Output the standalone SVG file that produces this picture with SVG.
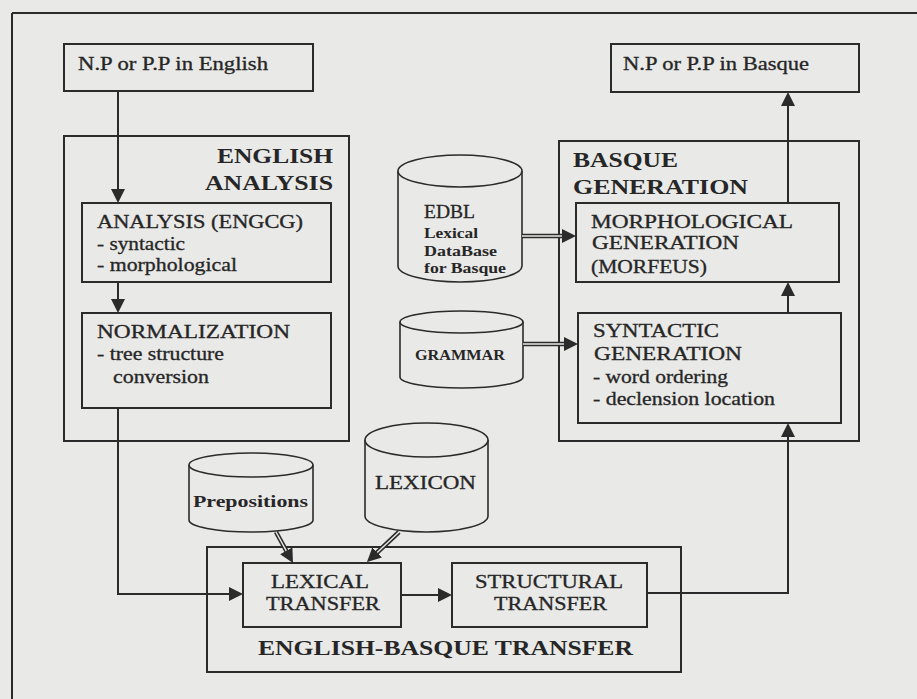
<svg xmlns="http://www.w3.org/2000/svg" width="917" height="699" viewBox="0 0 917 699">
<style>
.bg{fill:#e9e9e7}
.box{fill:none;stroke:#2b2b2b;stroke-width:2}
.cyl{fill:#e9e9e7;stroke:#2b2b2b;stroke-width:1.6}
.t{font-family:"Liberation Serif","Times New Roman",serif;fill:#262626}
.r{font-size:18px;stroke:#262626;stroke-width:0.3}
.b{font-size:20px;font-weight:bold}
.sb{font-size:14px;font-weight:bold}
.c{fill:none;stroke:#2b2b2b;stroke-width:2}
.d{fill:none;stroke:#2b2b2b;stroke-width:4.5}
.di{fill:none;stroke:#e9e9e7;stroke-width:1.4}
</style>
<defs>
<marker id="ah" viewBox="0 0 14 14" markerWidth="14" markerHeight="14" markerUnits="userSpaceOnUse" refX="3" refY="7" orient="auto">
<path d="M0,0 L14,7 L0,14 z" fill="#2b2b2b"/>
</marker>
</defs>
<rect class="bg" x="0" y="0" width="917" height="699"/>
<g id="frame">
<path d="M12,13 H917 M12,13 V699" class="c"/>
</g>
<g id="np-english">
<rect class="box" x="64" y="44" width="249" height="47"/>
<text class="t r" x="78" y="70" textLength="190" lengthAdjust="spacingAndGlyphs">N.P or P.P in English</text>
</g>
<g id="english-analysis">
<rect class="box" x="64" y="136" width="285" height="305"/>
<text class="t b" x="217" y="163" textLength="116" lengthAdjust="spacingAndGlyphs">ENGLISH</text>
<text class="t b" x="205" y="190" textLength="128" lengthAdjust="spacingAndGlyphs">ANALYSIS</text>
</g>
<g id="analysis-engcg">
<rect class="box" x="82" y="203" width="249" height="79"/>
<text class="t r" x="97" y="228" textLength="206" lengthAdjust="spacingAndGlyphs">ANALYSIS (ENGCG)</text>
<text class="t r" x="97" y="250" textLength="88" lengthAdjust="spacingAndGlyphs">- syntactic</text>
<text class="t r" x="97" y="271" textLength="140" lengthAdjust="spacingAndGlyphs">- morphological</text>
</g>
<g id="normalization">
<rect class="box" x="82" y="313" width="249" height="95"/>
<text class="t r" x="97" y="338" textLength="193" lengthAdjust="spacingAndGlyphs">NORMALIZATION</text>
<text class="t r" x="97" y="360" textLength="127" lengthAdjust="spacingAndGlyphs">- tree structure</text>
<text class="t r" x="113" y="383" textLength="96" lengthAdjust="spacingAndGlyphs">conversion</text>
</g>
<g id="np-basque">
<rect class="box" x="611" y="44" width="248" height="48"/>
<text class="t r" x="623" y="70" textLength="186" lengthAdjust="spacingAndGlyphs">N.P or P.P in Basque</text>
</g>
<g id="basque-generation">
<rect class="box" x="559" y="141" width="300" height="300"/>
<text class="t b" x="573" y="167" textLength="105" lengthAdjust="spacingAndGlyphs">BASQUE</text>
<text class="t b" x="573" y="194" textLength="175" lengthAdjust="spacingAndGlyphs">GENERATION</text>
</g>
<g id="morphological-generation">
<rect class="box" x="576" y="203" width="263" height="79"/>
<text class="t r" x="591" y="228" textLength="202" lengthAdjust="spacingAndGlyphs">MORPHOLOGICAL</text>
<text class="t r" x="592" y="249" textLength="147" lengthAdjust="spacingAndGlyphs">GENERATION</text>
<text class="t r" x="591" y="273" textLength="116" lengthAdjust="spacingAndGlyphs">(MORFEUS)</text>
</g>
<g id="syntactic-generation">
<rect class="box" x="578" y="313" width="263" height="110"/>
<text class="t r" x="593" y="337" textLength="126" lengthAdjust="spacingAndGlyphs">SYNTACTIC</text>
<text class="t r" x="594" y="360" textLength="148" lengthAdjust="spacingAndGlyphs">GENERATION</text>
<text class="t r" x="593" y="383" textLength="135" lengthAdjust="spacingAndGlyphs">- word ordering</text>
<text class="t r" x="593" y="405" textLength="182" lengthAdjust="spacingAndGlyphs">- declension location</text>
</g>
<g id="edbl">
<path class="cyl" d="M398,171 A62,16 0 0 1 522,171 V266 A62,16 0 0 1 398,266 Z"/>
<path class="cyl" d="M398,171 A62,16 0 0 0 522,171" fill="none"/>
<text class="t r" x="424" y="218" textLength="51" lengthAdjust="spacingAndGlyphs">EDBL</text>
<text class="t sb" x="424" y="238" textLength="54" lengthAdjust="spacingAndGlyphs">Lexical</text>
<text class="t sb" x="424" y="256" textLength="73" lengthAdjust="spacingAndGlyphs">DataBase</text>
<text class="t sb" x="424" y="273" textLength="82" lengthAdjust="spacingAndGlyphs">for Basque</text>
</g>
<g id="grammar">
<path class="cyl" d="M400,322 A61.5,11 0 0 1 523,322 V377 A61.5,11 0 0 1 400,377 Z"/>
<path class="cyl" d="M400,322 A61.5,11 0 0 0 523,322" fill="none"/>
<text class="t sb" x="415" y="360" textLength="90" lengthAdjust="spacingAndGlyphs">GRAMMAR</text>
</g>
<g id="prepositions">
<path class="cyl" d="M189,465 A62,12 0 0 1 313,465 V520 A62,12 0 0 1 189,520 Z"/>
<path class="cyl" d="M189,465 A62,12 0 0 0 313,465" fill="none"/>
<text class="t" x="193" y="507" font-size="17" font-weight="bold" textLength="115" lengthAdjust="spacingAndGlyphs">Prepositions</text>
</g>
<g id="lexicon">
<path class="cyl" d="M365,440 A61.5,17 0 0 1 488,440 V516 A61.5,16 0 0 1 365,516 Z"/>
<path class="cyl" d="M365,440 A61.5,17 0 0 0 488,440" fill="none"/>
<text class="t r" x="375" y="489" textLength="101" lengthAdjust="spacingAndGlyphs">LEXICON</text>
</g>
<g id="english-basque-transfer">
<rect class="box" x="207" y="547" width="474" height="125"/>
<text class="t b" x="258" y="655" textLength="375" lengthAdjust="spacingAndGlyphs">ENGLISH-BASQUE TRANSFER</text>
</g>
<g id="lexical-transfer">
<rect class="box" x="243" y="563" width="158" height="64"/>
<text class="t r" x="271" y="588" textLength="98" lengthAdjust="spacingAndGlyphs">LEXICAL</text>
<text class="t r" x="266" y="610" textLength="114" lengthAdjust="spacingAndGlyphs">TRANSFER</text>
</g>
<g id="structural-transfer">
<rect class="box" x="452" y="563" width="195" height="64"/>
<text class="t r" x="475" y="588" textLength="148" lengthAdjust="spacingAndGlyphs">STRUCTURAL</text>
<text class="t r" x="494" y="610" textLength="113" lengthAdjust="spacingAndGlyphs">TRANSFER</text>
</g>
<g id="connectors">
<path class="c" d="M118,91 V192" marker-end="url(#ah)"/>
<path class="c" d="M118,282 V302" marker-end="url(#ah)"/>
<path class="c" d="M118,408 V594 H232" marker-end="url(#ah)"/>
<path class="c" d="M401,595 H441" marker-end="url(#ah)"/>
<path class="c" d="M647,593 H788 V434" marker-end="url(#ah)"/>
<path class="c" d="M788,313 V293" marker-end="url(#ah)"/>
<path class="c" d="M788,203 V103" marker-end="url(#ah)"/>
<path class="d" d="M522,236 H565" marker-end="url(#ah)"/>
<path class="di" d="M522,236 H562"/>
<path class="d" d="M523,344 H567" marker-end="url(#ah)"/>
<path class="di" d="M523,344 H564"/>
<path class="d" d="M276,532 L287.7,553.4" marker-end="url(#ah)"/>
<path class="di" d="M276,532 L286.3,550.8"/>
<path class="d" d="M399,532 L375,554.5" marker-end="url(#ah)"/>
<path class="di" d="M399,532 L377.2,552.4"/>
</g>
</svg>
